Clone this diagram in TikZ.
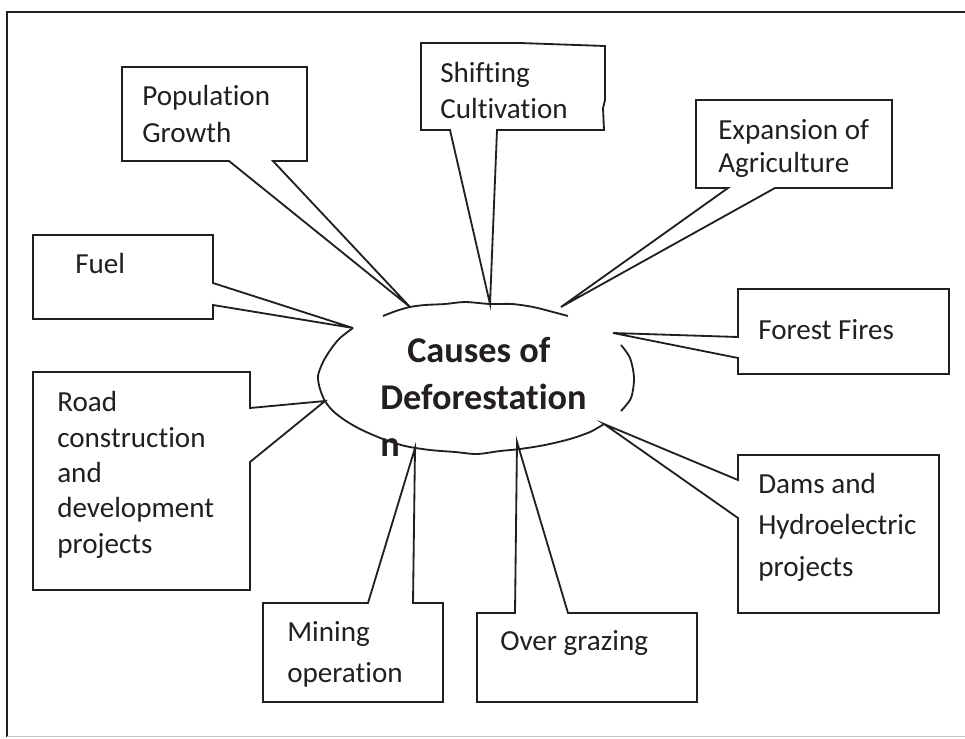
\documentclass[tikz,border=0pt]{standalone}
\usepackage{fontspec}
\setmainfont{Carlito}[Ligatures=NoCommon]
\usepackage{tikz}
\usetikzlibrary{calc}
\definecolor{inkgray}{RGB}{35,31,32}
\tikzstyle{callout} = [line width=1.3pt, draw=inkgray, fill=white, line join=miter]
\tikzstyle{cause} = [anchor=base west, inner sep=0pt, align=left, text=inkgray, font=\fontsize{20.7}{25.5}\selectfont]
\tikzstyle{rim} = [line width=1.3pt, draw=inkgray, line join=round]
\tikzstyle{title} = [anchor=base west, inner sep=0pt, align=left, text=inkgray, font=\fontsize{25.8}{33.4}\selectfont\bfseries]

\begin{document}
\begin{tikzpicture}[x=0.025cm, y=-0.025cm]
\useasboundingbox (0,0) rectangle (965,738);
\clip (0,0) rectangle (965,738);

% page frame
\draw[line width=1.8pt, draw=inkgray] (7,737) -- (7,12) -- (975,12);
\draw[line width=0.8pt, draw=gray!45] (7,736.5) -- (975,736.5);

% pointer tips on the ellipse
\coordinate (population-tip) at (410,307);
\coordinate (shifting-tip) at (490,304);
\coordinate (agriculture-tip) at (561,307);
\coordinate (fuel-tip) at (353,328);
\coordinate (fires-tip) at (613,333);
\coordinate (road-tip) at (325,401);
\coordinate (dams-tip) at (604,424);
\coordinate (mining-tip) at (415,448);
\coordinate (grazing-tip) at (517,442);

% callouts
\draw[callout] (122,67) -- (307,67) -- (307,161) -- (273,161) -- (population-tip) -- (229,161) -- (122,161) -- cycle;
\draw[callout] (421,43) -- (520,43) -- (605,46) -- (605,100) -- (603,108) -- (604,130) -- (497,130) -- (shifting-tip) -- (450,130) -- (421,130) -- cycle;
\draw[callout] (696,100) -- (892,100) -- (892,188) -- (775,188) -- (agriculture-tip) -- (728,188) -- (696,188) -- cycle;
\draw[callout] (33,235) -- (213,235) -- (213,283) -- (fuel-tip) -- (213,305) -- (213,319) -- (33,319) -- cycle;
\draw[callout] (738,289) -- (949,289) -- (949,374) -- (738,374) -- (738,358) -- (fires-tip) -- (738,337) -- cycle;
\draw[callout] (33,372) -- (250,372) -- (250,408) -- (road-tip) -- (250,462) -- (250,590) -- (33,590) -- cycle;
\draw[callout] (738,455) -- (939,455) -- (939,613) -- (738,613) -- (738,518) -- (dams-tip) -- (738,480) -- cycle;
\draw[callout] (263,603) -- (368,603) -- (mining-tip) -- (413,603) -- (443,603) -- (443,702) -- (263,702) -- cycle;
\draw[callout] (477,613) -- (515,613) -- (grazing-tip) -- (568,613) -- (697,613) -- (697,702) -- (477,702) -- cycle;

% texts, placed at the baseline of their last line
\node[cause, font=\fontsize{20.7}{26.3}\selectfont] (population) at (142,142) {Population\\Growth};
\node[cause, font=\fontsize{20.7}{24.9}\selectfont] (shifting) at (440,118) {Shifting\\Cultivation};
\node[cause, font=\fontsize{20.7}{22.8}\selectfont] (agriculture) at (718,172) {Expansion of\\Agriculture};
\node[cause] (fuel) at (75,273) {Fuel};
\node[cause] (fires) at (758,339) {Forest Fires};
\node[cause, font=\fontsize{20.7}{25.1}\selectfont] (road) at (57,553) {Road\\construction\\and\\development\\projects};
\node[cause, font=\fontsize{20.7}{29.2}\selectfont] (dams) at (758,576) {Dams and\\Hydroelectric\\projects};
\node[cause, font=\fontsize{20.7}{28.5}\selectfont] (mining) at (287,682) {Mining\\operation};
\node[cause] (grazing) at (500,650) {Over grazing};

% hand drawn ellipse
\draw[rim] plot[smooth] coordinates {(fuel-tip) (340,338) (331,349) (323,362) (318,376) (320,389) (road-tip) (333,411) (346,421) (362,430) (383,439) (405,446) (430,450) (455,452) (477,454) (500,451) (520,449) (545,445) (570,439) (590,432) (dams-tip)};
\draw[rim] plot[smooth] coordinates {(383,316) (396,311) (population-tip) (425,305) (445,304) (465,302) (shifting-tip) (512,304) (533,307) (553,312) (568,316)};
\draw[rim] plot[smooth] coordinates {(621,345) (630,358) (634,378) (631,398) (621,411)};

\node[title] (causes) at (380,456) {\hspace*{0.675cm}Causes of\\Deforestation\\n};

\end{tikzpicture}
\end{document}
